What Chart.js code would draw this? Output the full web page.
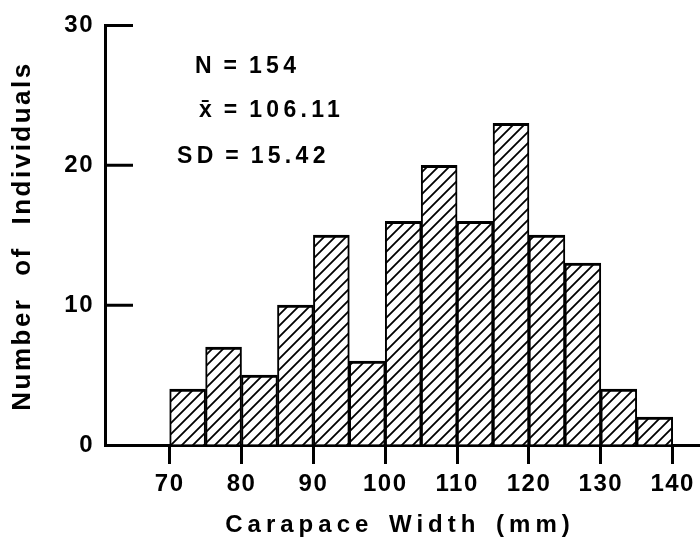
<!DOCTYPE html>
<html lang="en">
<head>
  <meta charset="UTF-8">
  <title>Carapace Width Histogram</title>
  <script src="https://cdn.jsdelivr.net/npm/chart.js"></script>
  <style>
    html, body { margin: 0; padding: 0; background: #fff; }
    .wrap { width: 700px; height: 547px; position: relative; }
  </style>
</head>
<body>
  <div class="wrap"><canvas id="hist"></canvas></div>

  <script>
    // bin midpoints (mm) and counts
    const binMid = [72.5, 77.5, 82.5, 87.5, 92.5, 97.5, 102.5, 107.5, 112.5, 117.5, 122.5, 127.5, 132.5, 137.5];
    const counts = [4, 7, 5, 10, 15, 6, 16, 20, 16, 23, 15, 13, 4, 2];
    const xTicks = [70, 80, 90, 100, 110, 120, 130, 140];
    const yTicks = [0, 10, 20, 30];
    const statLines = ['N = 154', 'x\u0304 = 106.11', 'SD = 15.42'];
    const xTitle = 'Carapace Width (mm)';
    const yTitle = 'Number of Individuals';

    const FONT = '"Liberation Sans", Arial, Helvetica, sans-serif';

    // diagonal "/" hatching used as the bar fill
    function makeHatch() {
      const s = 11;
      const c = document.createElement('canvas');
      c.width = s; c.height = s;
      const g = c.getContext('2d');
      g.fillStyle = '#fff';
      g.fillRect(0, 0, s, s);
      g.strokeStyle = '#000';
      g.lineWidth = 1.8;
      g.beginPath();
      g.moveTo(-1, s + 1); g.lineTo(s + 1, -1);
      g.moveTo(-1, 1); g.lineTo(1, -1);
      g.moveTo(s - 1, s + 1); g.lineTo(s + 1, s - 1);
      g.stroke();
      return g.createPattern(c, 'repeat');
    }

    const decor = {
      id: 'decor',
      beforeDraw(chart) {
        // slightly open spacing for the tick numbers, like the original print
        chart.ctx.letterSpacing = '1.5px';
      },
      afterDraw(chart) {
        const ctx = chart.ctx;
        const area = chart.chartArea;
        const y = chart.scales.y;

        // inward tick marks on the y axis
        ctx.save();
        ctx.strokeStyle = '#000';
        ctx.lineWidth = 3;
        ctx.beginPath();
        yTicks.forEach(v => {
          if (v === 0) return;
          const py = y.getPixelForValue(v);
          ctx.moveTo(area.left, py);
          ctx.lineTo(area.left + 28, py);
        });
        ctx.stroke();
        ctx.restore();

        ctx.save();
        ctx.fillStyle = '#000';

        // x axis title
        ctx.font = 'bold 24px ' + FONT;
        ctx.letterSpacing = '5px';
        ctx.wordSpacing = '4px';
        ctx.textAlign = 'center';
        ctx.textBaseline = 'middle';
        ctx.fillText(xTitle, 400, 525);

        // y axis title
        ctx.save();
        ctx.translate(23, 236);
        ctx.rotate(-Math.PI / 2);
        ctx.font = 'bold 26px ' + FONT;
        ctx.letterSpacing = '2.5px';
        ctx.wordSpacing = '12px';
        ctx.fillText(yTitle, 0, 0);
        ctx.restore();

        // summary statistics
        ctx.font = 'bold 23px ' + FONT;
        ctx.letterSpacing = '4.3px';
        ctx.wordSpacing = '-3px';
        ctx.textAlign = 'left';
        ctx.textBaseline = 'alphabetic';
        ctx.fillText(statLines[0], 195, 73);
        ctx.fillText(statLines[1], 199, 117);
        ctx.fillText(statLines[2], 177, 163);
        ctx.restore();

        ctx.letterSpacing = '0px';
      }
    };

    const ctx = document.getElementById('hist').getContext('2d');
    const hatch = makeHatch();

    new Chart(ctx, {
      type: 'bar',
      data: {
        datasets: [{
          data: binMid.map((m, i) => ({ x: m, y: counts[i] })),
          backgroundColor: hatch,
          borderColor: '#000',
          borderWidth: { top: 3, left: 2, right: 2, bottom: 0 },
          borderSkipped: false,
          barPercentage: 1,
          categoryPercentage: 1
        }]
      },
      options: {
        responsive: true,
        maintainAspectRatio: false,
        animation: false,
        layout: { padding: { top: 23, right: 0, bottom: 0, left: 0 } },
        plugins: {
          legend: { display: false },
          tooltip: { enabled: false }
        },
        scales: {
          x: {
            type: 'linear',
            offset: false,
            min: 61,
            max: 143.8,
            afterBuildTicks: scale => { scale.ticks = xTicks.map(v => ({ value: v })); },
            afterFit: scale => { scale.height = 102; },
            grid: {
              offset: false,
              drawOnChartArea: false,
              drawTicks: true,
              tickLength: 19,
              tickWidth: 3,
              tickColor: '#000'
            },
            border: { display: true, color: '#000', width: 3 },
            ticks: {
              color: '#000',
              padding: 6,
              maxRotation: 0,
              autoSkip: false,
              font: { family: FONT, size: 24, weight: 'bold' }
            }
          },
          y: {
            min: 0,
            max: 30,
            afterBuildTicks: scale => { scale.ticks = yTicks.map(v => ({ value: v })); },
            afterFit: scale => { scale.width = 105; },
            grid: { drawOnChartArea: false, drawTicks: false },
            border: { display: true, color: '#000', width: 3 },
            ticks: {
              color: '#000',
              padding: 11,
              font: { family: FONT, size: 24, weight: 'bold' }
            }
          }
        }
      },
      plugins: [decor]
    });
  </script>
</body>
</html>
